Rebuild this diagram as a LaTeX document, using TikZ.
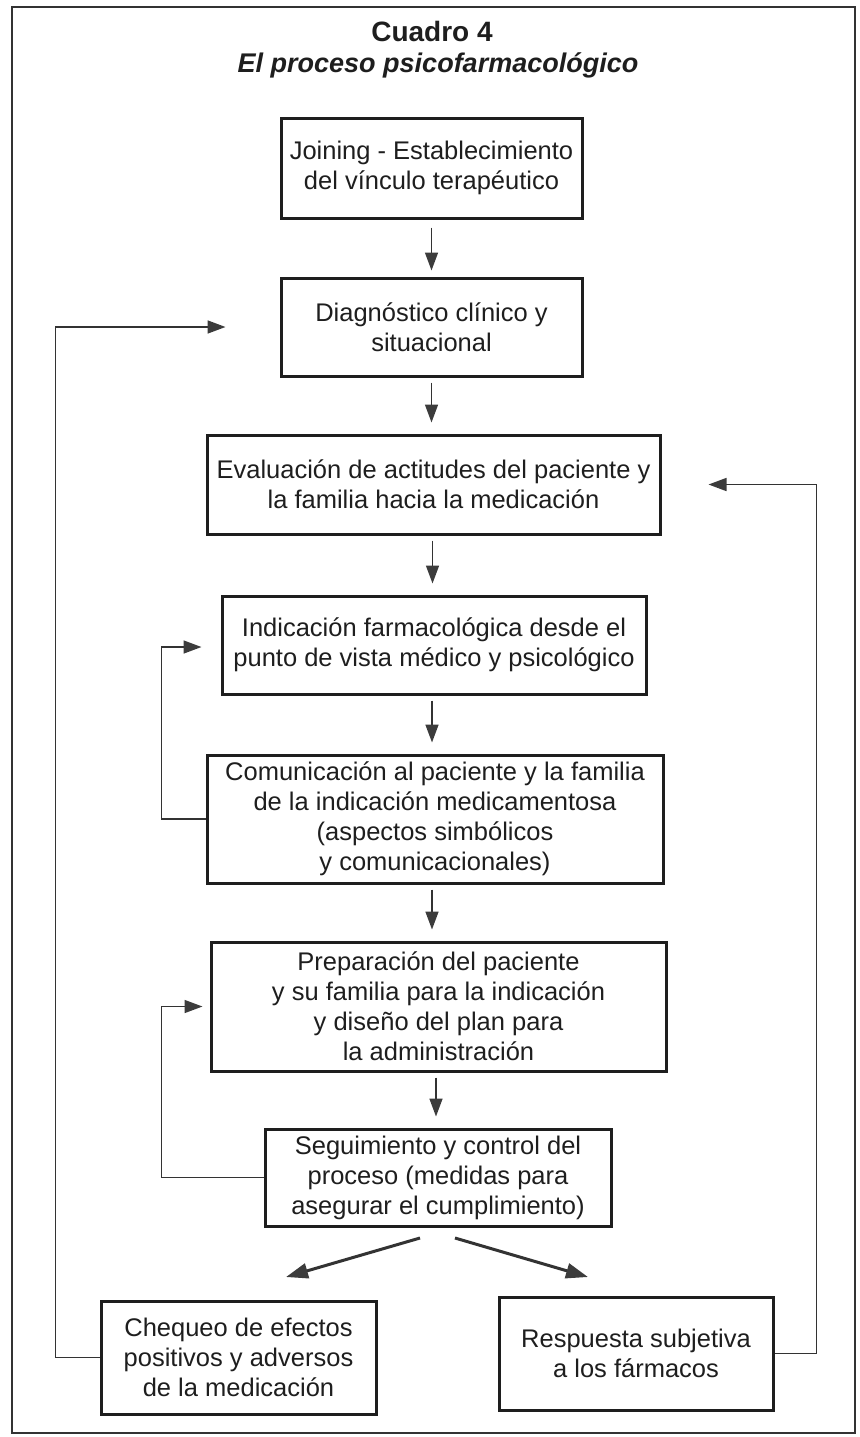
\documentclass[tikz,border=0pt]{standalone}
\usepackage{fontspec}
\setmainfont{Liberation Sans}
\usetikzlibrary{arrows.meta,calc}
\definecolor{ink}{HTML}{1E1E1E}
\definecolor{lin}{HTML}{333333}
\definecolor{headc}{HTML}{3C3C3C}
\begin{document}
\begin{tikzpicture}[x=1pt,y=-1pt,
  box/.style={draw=ink,line width=3pt,align=center,text=ink,inner sep=0pt,
    font=\fontsize{25.5}{30}\selectfont},
  arr/.style={draw=lin,line width=1.6pt,
    -{Triangle[length=18pt,width=13pt,color=headc]}},
  varr/.style={arr,shorten <=5pt,shorten >=11pt},
  darr/.style={draw=lin,line width=3pt,
    -{Triangle[length=22pt,width=15pt,color=headc]}},
  ttl/.style={text=ink,anchor=base}]
\useasboundingbox (0,0) rectangle (859,1437);
\draw[lin,line width=1.8pt] (12,7) rectangle (855,1433);

\node[ttl,font=\fontsize{28}{32}\selectfont\bfseries] (t1) at (432,42) {Cuadro 4};
\node[ttl,font=\fontsize{27}{32}\selectfont\bfseries\itshape] (t2) at (438,73) {El proceso psicofarmacológico};

\node[box,minimum width=301pt,minimum height=100pt] (b1) at (431.5,168)
  {Joining - Establecimiento\\del vínculo terapéutico};
\node[box,minimum width=301pt,minimum height=98pt] (b2) at (431.5,327)
  {Diagnóstico clínico y\\situacional};
\node[box,minimum width=453pt,minimum height=99pt] (b3) at (433.5,484.5)
  {Evaluación de actitudes del paciente y\\la familia hacia la medicación};
\node[box,minimum width=424pt,minimum height=98pt] (b4) at (434,645)
  {Indicación farmacológica desde el\\punto de vista médico y psicológico};
\node[box,minimum width=456pt,minimum height=128pt] (b5) at (435,819)
  {Comunicación al paciente y la familia\\de la indicación medicamentosa\\(aspectos simbólicos\\y comunicacionales)};
\node[box,minimum width=455pt,minimum height=129pt] (b6) at (438.5,1006.5)
  {Preparación del paciente\\y su familia para la indicación\\y diseño del plan para\\la administración};
\node[box,minimum width=346pt,minimum height=97pt] (b7) at (438,1177.5)
  {Seguimiento y control del\\proceso (medidas para\\asegurar el cumplimiento)};
\node[box,minimum width=275pt,minimum height=113pt] (b8) at (238.5,1357.5)
  {Chequeo de efectos\\positivos y adversos\\de la medicación};
\node[box,minimum width=274pt,minimum height=113pt] (b9) at (636,1353.5)
  {Respuesta subjetiva\\a los fármacos};

% vertical arrows
\draw[arr,shorten <=8pt,shorten >=6pt] (b1.south) -- (b1.south |- b2.north);
\draw[varr] (b2.south) -- (b2.south |- b3.north);
\draw[varr] ([xshift=-1pt]b3.south) -- ([xshift=-1pt]b3.south |- b4.north);
\draw[varr] ([xshift=-2pt]b4.south) -- ([xshift=-2pt]b4.south |- b5.north);
\draw[varr] ([xshift=-3pt]b5.south) -- ([xshift=-3pt]b5.south |- b6.north);
\draw[varr] ([xshift=-2.5pt]b6.south) -- ([xshift=-2.5pt]b6.south |- b7.north);

% diagonal arrows
\coordinate (d1a) at (420,1238);
\coordinate (d1b) at (286,1277);
\coordinate (d2a) at (455,1238);
\coordinate (d2b) at (588,1277);
\draw[darr] (d1a) -- (d1b);
\draw[darr] (d2a) -- (d2b);

% feedback loops
\draw[arr] (b8.west) -- ++(-44,0) |- ([xshift=-54pt]b2.west);
\draw[arr] (b9.east) -- ++(42,0) |- ([xshift=47pt]b3.east);
\draw[arr] (b5.west) -- ++(-44,0) |- ([xshift=-19pt,yshift=-2pt]b4.west);
\draw[arr] (b7.west) -- ++(-102,0) |- ([xshift=-7pt]b6.west);
\end{tikzpicture}
\end{document}
